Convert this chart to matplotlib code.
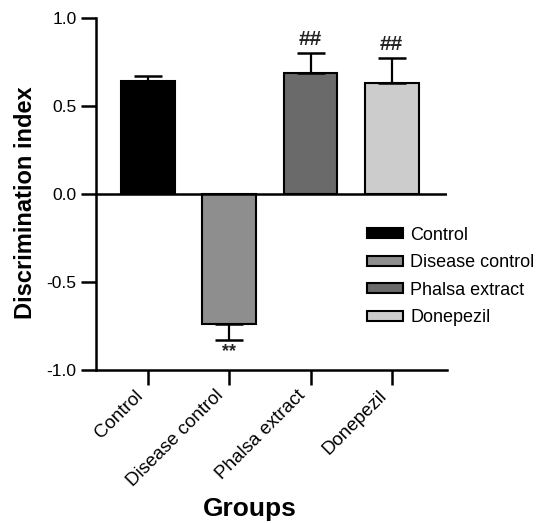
import matplotlib
matplotlib.use('Agg')
import matplotlib.pyplot as plt
from matplotlib.patches import Patch
from matplotlib.transforms import ScaledTranslation

plt.rcParams['font.family'] = ['Liberation Sans', 'DejaVu Sans']

groups = ['Control', 'Disease control', 'Phalsa extract', 'Donepezil']
means = [0.64, -0.74, 0.69, 0.63]
sems = [0.03, 0.09, 0.11, 0.14]
colors = ['#000000', '#8e8e8e', '#6a6a6a', '#cccccc']
marks = ['', '**', '##', '##']
yticks = [-1.0, -0.5, 0.0, 0.5, 1.0]
yticklabels = ['-1.0', '-0.5', '0.0', '0.5', '1.0']

fig = plt.figure(figsize=(5.47, 5.23), dpi=100)
ax = fig.add_axes([96/547, 1-370/523, 351/547, 352/523])

x = list(range(len(groups)))
ax.bar(x, means, width=0.66, color=colors, edgecolor='black', linewidth=1.5, zorder=2)

for xi, m, s, mk in zip(x, means, sems, marks):
    if m >= 0:
        yerr = [[0], [s]]
    else:
        yerr = [[s], [0]]
    ax.errorbar([xi], [m], yerr=yerr, fmt='none', ecolor='black', elinewidth=1.6,
                capsize=10, capthick=1.8, zorder=3)
    if mk:
        if m >= 0:
            ax.text(xi, m + s + 0.025, mk, ha='center', va='bottom', fontsize=15,
                    fontweight='bold', color='#222222')
        else:
            ax.text(xi, m - s - 0.015, mk, ha='center', va='top', fontsize=13,
                    fontweight='bold', color='#222222')

ax.axhline(0, color='black', lw=1.8, zorder=4)

ax.set_xlim(-0.64, 3.68)
ax.set_ylim(-1.0, 1.0)
ax.set_yticks(yticks)
ax.set_yticklabels(yticklabels)
ax.set_xticks(x)
ax.set_xticklabels(groups, rotation=45, ha='right', rotation_mode='anchor', fontsize=13.5)

for sp in ['top', 'right']:
    ax.spines[sp].set_visible(False)
for sp in ['left', 'bottom']:
    ax.spines[sp].set_linewidth(1.8)

ax.tick_params(axis='both', direction='out', length=11, width=1.8)
ax.tick_params(axis='y', labelsize=12.5, pad=3)
ax.tick_params(axis='x', pad=4)

for lab in ax.get_xticklabels():
    lab.set_transform(lab.get_transform() + ScaledTranslation(-0.14, 0.04, fig.dpi_scale_trans))

ax.set_ylabel('Discrimination index', fontsize=17, fontweight='bold')
ax.yaxis.set_label_coords(-0.202, 0.474)
ax.yaxis.label.set_va('center')
ax.set_xlabel('Groups', fontsize=19, fontweight='bold')
ax.xaxis.set_label_coords(0.439, -0.36)

handles = [Patch(facecolor=c, edgecolor='black', linewidth=1.5) for c in colors]
ax.legend(handles, groups, loc='upper left', bbox_to_anchor=(0.772, 0.407),
          frameon=False, fontsize=13, handlelength=2.0, handleheight=0.45,
          handletextpad=0.4, labelspacing=0.58, borderpad=0, borderaxespad=0)

fig.savefig('out.png', dpi=100)
